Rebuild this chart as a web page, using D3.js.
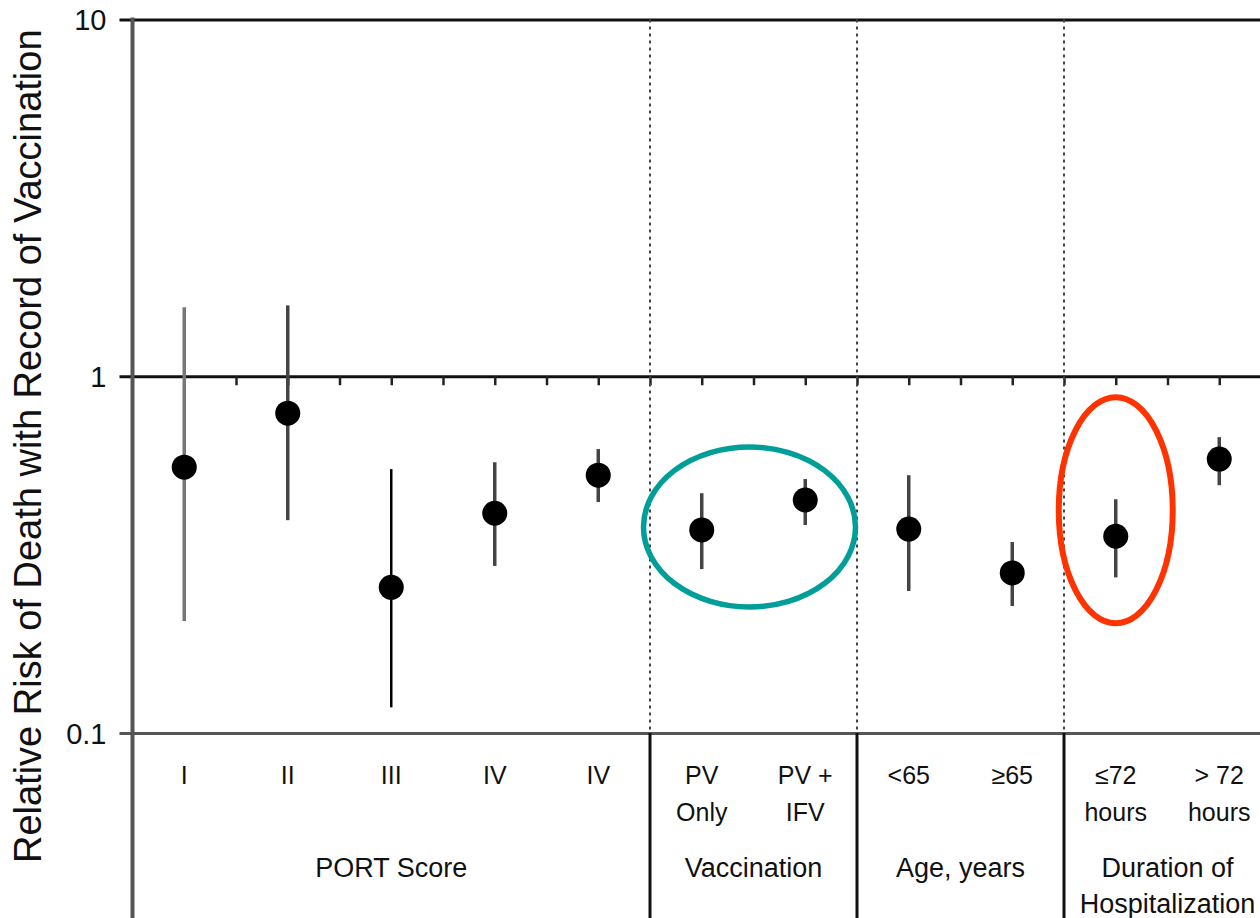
<!DOCTYPE html>
<html lang="en">
  <head>
    <meta charset="UTF-8" />
    <title>Relative Risk of Death with Record of Vaccination</title>
    <script src="https://d3js.org/d3.v7.min.js"></script>
    <style>
      body {
        margin: 0;
        background: #fff;
      }
      svg {
        display: block;
        font-family: "Liberation Sans", Arial, sans-serif;
      }
    </style>
  </head>
  <body>
    <svg width="1260" height="918"></svg>
    <script>
      // Subgroup categories (two-line labels)
      const labelTop = ["I", "II", "III", "IV", "IV", "PV", "PV +", "<65", "\u226565", "\u226472", "> 72"];
      const labelBottom = ["", "", "", "", "", "Only", "IFV", "", "", "hours", "hours"];

      // Relative risk estimates with confidence limits
      const rr = [0.556, 0.788, 0.256, 0.413, 0.528, 0.371, 0.45, 0.373, 0.281, 0.356, 0.586];
      const lower = [0.206, 0.395, 0.118, 0.294, 0.444, 0.288, 0.383, 0.25, 0.227, 0.273, 0.495];
      const upper = [1.56, 1.58, 0.549, 0.574, 0.625, 0.47, 0.515, 0.528, 0.343, 0.452, 0.675];

      // Groups: label lines, first and last category index
      const groupNames = [["PORT Score"], ["Vaccination"], ["Age, years"], ["Duration of", "Hospitalization"]];
      const groupStart = [0, 5, 7, 9];
      const groupEnd = [4, 6, 8, 10];

      const yTicks = [0.1, 1, 10];

      const svg = d3.select("svg");

      const x = d3.scaleLinear().domain([-0.5, 10.5]).range([132.5, 1271]);
      const y = d3.scaleLog().domain([0.1, 10]).range([733, 19.5]);

      const left = x(-0.5);
      const right = 1260;

      // Y axis: labels + horizontal rules at 0.1, 1, 10
      const yAxis = svg
        .append("g")
        .attr("transform", `translate(${left},0)`)
        .call(
          d3
            .axisLeft(y)
            .tickValues(yTicks)
            .tickFormat((d) => (d < 1 ? "0.1" : d3.format("d")(d)))
            .tickSizeInner(-(right - left))
            .tickSizeOuter(0)
            .tickPadding(26)
        );
      yAxis.select(".domain").remove();
      yAxis
        .selectAll(".tick line")
        .attr("x1", -13)
        .attr("stroke", (d) => (d === 0.1 ? "#555" : "#111"))
        .attr("stroke-width", 3);
      yAxis
        .selectAll(".tick text")
        .attr("fill", "#111")
        .style("font-size", "29px")
        .attr("dy", "0.36em");

      // small ticks hanging under the line at 1
      const tickAxis = svg
        .append("g")
        .attr("transform", `translate(0,${y(1)})`)
        .call(
          d3
            .axisBottom(x)
            .tickValues(d3.range(0, 21).map((i) => i / 2))
            .tickSize(9)
            .tickFormat("")
        );
      tickAxis.select(".domain").remove();
      tickAxis.selectAll(".tick line").attr("stroke", "#222").attr("stroke-width", 2.5);

      // group separators: dotted above 0.1, solid below
      const seps = groupStart.slice(1).map((s) => s - 0.5);
      svg
        .selectAll(".sep-dot")
        .data(seps)
        .enter()
        .append("line")
        .attr("x1", (d) => x(d))
        .attr("x2", (d) => x(d))
        .attr("y1", y(10))
        .attr("y2", y(0.1))
        .attr("stroke", "#444")
        .attr("stroke-width", 2)
        .attr("stroke-dasharray", "3,4");
      svg
        .selectAll(".sep-solid")
        .data(seps)
        .enter()
        .append("line")
        .attr("x1", (d) => x(d))
        .attr("x2", (d) => x(d))
        .attr("y1", y(0.1))
        .attr("y2", 918)
        .attr("stroke", "#111")
        .attr("stroke-width", 3);

      // left axis line
      svg
        .append("line")
        .attr("x1", left)
        .attr("x2", left)
        .attr("y1", y(10) - 2)
        .attr("y2", 918)
        .attr("stroke", "#555")
        .attr("stroke-width", 4);

      // error bars
      svg
        .selectAll(".ci")
        .data(rr)
        .enter()
        .append("line")
        .attr("x1", (d, i) => x(i))
        .attr("x2", (d, i) => x(i))
        .attr("y1", (d, i) => y(upper[i]))
        .attr("y2", (d, i) => y(lower[i]))
        .attr("stroke", (d, i) => (i === 2 ? "#000" : i === 0 ? "#777" : "#444"))
        .attr("stroke-width", (d, i) => (i === 2 ? 2.5 : 3.5));

      // point estimates
      svg
        .selectAll(".dot")
        .data(rr)
        .enter()
        .append("circle")
        .attr("cx", (d, i) => x(i))
        .attr("cy", (d) => y(d))
        .attr("r", 12.5)
        .attr("fill", "#000");

      // category labels
      const catText = svg
        .selectAll(".cat")
        .data(labelTop)
        .enter()
        .append("text")
        .attr("text-anchor", "middle")
        .attr("fill", "#111")
        .style("font-size", "25px");
      catText
        .append("tspan")
        .attr("x", (d, i) => x(i))
        .attr("y", 784)
        .text((d) => d);
      catText
        .append("tspan")
        .attr("x", (d, i) => x(i))
        .attr("y", 821)
        .text((d, i) => labelBottom[i]);

      // group labels
      const groupText = svg
        .selectAll(".grp")
        .data(groupNames)
        .enter()
        .append("text")
        .attr("text-anchor", "middle")
        .attr("fill", "#111")
        .style("font-size", "27px");
      groupText
        .selectAll("tspan")
        .data((d, gi) => d.map((t) => ({ t, gi })))
        .enter()
        .append("tspan")
        .attr("x", (d) => x((groupStart[d.gi] + groupEnd[d.gi]) / 2))
        .attr("y", (d, j) => 877 + j * 36)
        .text((d) => d.t);

      // y axis title
      svg
        .append("text")
        .attr("transform", `translate(41,${y(1) + 70}) rotate(-90)`)
        .attr("text-anchor", "middle")
        .attr("fill", "#111")
        .style("font-size", "38px")
        .text("Relative Risk of Death with Record of Vaccination");

      // highlight ellipses
      svg
        .append("ellipse")
        .attr("cx", (x(5) + x(6)) / 2 - 4)
        .attr("cy", y(0.378))
        .attr("rx", 106)
        .attr("ry", 80)
        .attr("fill", "none")
        .attr("stroke", "#009e98")
        .attr("stroke-width", 5.5);
      svg
        .append("ellipse")
        .attr("cx", x(9))
        .attr("cy", y(0.421))
        .attr("rx", 57)
        .attr("ry", 113)
        .attr("fill", "none")
        .attr("stroke", "#ff3300")
        .attr("stroke-width", 6);
    </script>
  </body>
</html>
